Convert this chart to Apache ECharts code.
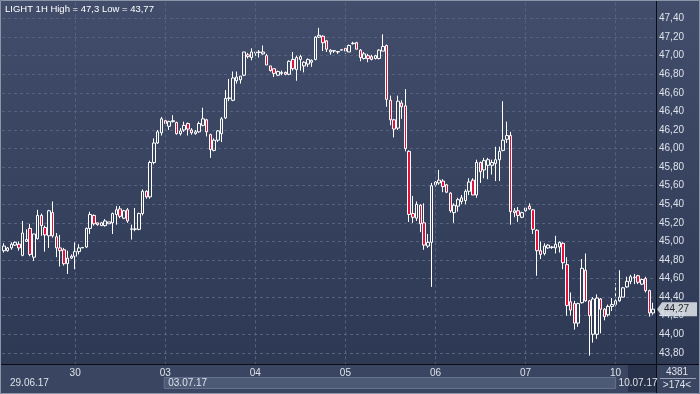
<!DOCTYPE html>
<html lang="en">
<head>
    <meta charset="UTF-8">
    <title>LIGHT 1H</title>
    <style>
        html, body { margin: 0; padding: 0; background: #2c3752; }
        #main { width: 700px; height: 394px; }
    </style>
</head>
<body>
<div id="main"></div>
<script src="https://cdn.jsdelivr.net/npm/echarts@6/dist/echarts.min.js"></script>
<script>
    // days on screen and how many hourly bars each one has
    var days = ['29.06.17', '30.06.17', '03.07.17', '04.07.17', '05.07.17', '06.07.17', '07.07.17', '10.07.17'];
    var barsPerDay = [19, 24, 24, 24, 24, 24, 24, 11];
    var firstHour = [5, 0, 0, 0, 0, 0, 0, 0];
    var weekLabels = ['29.06.17', '03.07.17', '10.07.17'];

    // OHLC
    var opens = [
        44.90, 44.90, 44.93, 44.96, 44.97, 44.85, 45.00, 45.14, 44.83, 45.03, 45.28, 45.15, 45.06, 45.31, 45.05, 44.93, 44.91, 44.76, 44.82,
        44.84, 44.89, 44.93, 44.94, 45.14, 45.28, 45.20, 45.17, 45.17, 45.19, 45.20, 45.29, 45.35, 45.25, 45.34, 45.13, 45.13, 45.13, 45.30, 45.54, 45.48, 45.85, 46.06, 46.17,
        46.30, 46.24, 46.29, 46.28, 46.16, 46.20, 46.27, 46.20, 46.16, 46.18, 46.25, 46.31, 46.15, 45.98, 46.09, 46.16, 46.33, 46.54, 46.52, 46.73, 46.74, 46.79, 47.01, 46.98,
        47.03, 47.04, 47.02, 47.00, 46.89, 46.86, 46.79, 46.81, 46.82, 46.80, 46.96, 46.85, 46.96, 46.89, 46.91, 46.93, 46.96, 47.20, 47.21, 47.16, 47.04, 47.05, 47.04, 47.06,
        47.08, 47.04, 47.13, 47.14, 47.06, 46.97, 47.00, 46.99, 46.97, 46.97, 47.05, 47.11, 46.52, 46.31, 46.22, 46.49, 46.46, 45.97, 45.30, 45.25, 45.39, 45.20, 44.95, 44.99,
        45.61, 45.63, 45.65, 45.61, 45.52, 45.31, 45.38, 45.43, 45.44, 45.54, 45.66, 45.50, 45.85, 45.77, 45.82, 45.82, 45.84, 45.88, 45.98, 46.10, 46.14, 45.31, 45.33, 45.26,
        45.33, 45.38, 45.34, 45.12, 44.90, 44.87, 44.93, 44.94, 44.93, 44.94, 44.98, 44.75, 44.35, 44.33, 44.12, 44.34, 44.69, 44.36, 44.00, 44.00, 44.38, 44.27, 44.21, 44.30,
        44.32, 44.36, 44.40, 44.51, 44.57, 44.61, 44.63, 44.54, 44.60, 44.47, 44.23
    ];
    var highs = [
        44.98, 44.94, 44.99, 45.00, 45.00, 45.22, 45.13, 45.19, 45.08, 45.34, 45.30, 45.17, 45.34, 45.43, 45.09, 45.07, 44.93, 44.90, 44.86,
        44.99, 44.97, 44.94, 45.15, 45.32, 45.29, 45.20, 45.21, 45.24, 45.21, 45.31, 45.38, 45.38, 45.34, 45.36, 45.18, 45.36, 45.31, 45.56, 45.55, 45.87, 46.11, 46.20, 46.34,
        46.31, 46.30, 46.36, 46.29, 46.22, 46.29, 46.28, 46.22, 46.20, 46.29, 46.44, 46.32, 46.16, 46.11, 46.20, 46.34, 46.63, 46.75, 46.83, 46.83, 46.78, 47.04, 47.03, 47.08,
        47.05, 47.06, 47.11, 47.02, 46.89, 46.86, 46.84, 46.84, 46.83, 46.95, 47.04, 47.00, 47.01, 46.94, 46.97, 46.96, 47.21, 47.30, 47.22, 47.17, 47.07, 47.06, 47.05, 47.07,
        47.08, 47.12, 47.15, 47.15, 47.07, 47.04, 47.02, 47.01, 47.01, 47.07, 47.23, 47.12, 46.57, 46.32, 46.57, 46.52, 46.64, 45.98, 45.49, 45.43, 45.40, 45.41, 45.08, 45.63,
        45.65, 45.77, 45.67, 45.62, 45.53, 45.41, 45.47, 45.50, 45.56, 45.68, 45.68, 45.88, 45.86, 45.90, 45.90, 45.88, 46.02, 46.02, 46.51, 46.29, 46.18, 45.36, 45.37, 45.32,
        45.37, 45.41, 45.35, 45.13, 45.00, 44.98, 44.97, 44.95, 45.06, 45.00, 44.99, 44.83, 44.45, 44.36, 44.34, 44.81, 44.87, 44.37, 44.40, 44.43, 44.39, 44.28, 44.32, 44.39,
        44.55, 44.69, 44.51, 44.62, 44.64, 44.65, 44.64, 44.60, 44.62, 44.48, 44.34
    ];
    var lows = [
        44.88, 44.89, 44.91, 44.95, 44.90, 44.84, 45.00, 44.84, 44.79, 45.02, 45.06, 44.89, 44.93, 45.04, 44.83, 44.73, 44.74, 44.65, 44.81,
        44.70, 44.86, 44.93, 44.93, 45.08, 45.17, 45.17, 45.17, 45.16, 45.19, 45.08, 45.18, 45.25, 45.24, 45.20, 45.02, 45.11, 45.12, 45.28, 45.46, 45.46, 45.83, 46.05, 46.14,
        46.25, 46.20, 46.28, 46.15, 46.14, 46.18, 46.14, 46.15, 46.15, 46.17, 46.24, 46.13, 45.90, 45.97, 46.07, 46.07, 46.32, 46.51, 46.51, 46.70, 46.70, 46.78, 46.97, 46.95,
        47.00, 46.98, 47.01, 46.90, 46.83, 46.77, 46.78, 46.79, 46.79, 46.79, 46.84, 46.73, 46.84, 46.82, 46.88, 46.88, 46.95, 47.19, 47.05, 47.04, 47.01, 47.03, 47.02, 47.06,
        47.02, 47.04, 47.12, 47.07, 46.94, 46.96, 46.93, 46.95, 46.96, 46.96, 47.05, 46.45, 46.25, 46.12, 46.20, 46.32, 45.97, 45.21, 45.20, 45.22, 45.10, 44.91, 44.93, 44.51,
        45.59, 45.61, 45.53, 45.52, 45.31, 45.20, 45.32, 45.40, 45.40, 45.50, 45.50, 45.47, 45.63, 45.68, 45.67, 45.72, 45.65, 45.65, 45.97, 46.06, 45.18, 45.26, 45.21, 45.25,
        45.32, 45.34, 45.08, 44.63, 44.81, 44.85, 44.92, 44.92, 44.87, 44.88, 44.70, 44.20, 44.20, 44.05, 44.08, 44.33, 44.35, 43.77, 43.91, 43.95, 44.01, 44.15, 44.19, 44.25,
        44.30, 44.35, 44.40, 44.50, 44.54, 44.54, 44.54, 44.53, 44.45, 44.19, 44.21
    ];
    var closes = [
        44.95, 44.93, 44.97, 44.99, 44.93, 45.09, 45.02, 44.86, 45.08, 45.28, 45.17, 45.07, 45.33, 45.06, 44.93, 44.90, 44.76, 44.82, 44.84,
        44.89, 44.93, 44.935, 45.14, 45.29, 45.19, 45.18, 45.20, 45.22, 45.21, 45.30, 45.34, 45.27, 45.33, 45.22, 45.135, 45.135, 45.30, 45.54, 45.48, 45.85, 46.06, 46.18, 46.32,
        46.27, 46.29, 46.30, 46.16, 46.19, 46.25, 46.21, 46.17, 46.18, 46.27, 46.32, 46.18, 45.99, 46.09, 46.19, 46.32, 46.54, 46.545, 46.76, 46.77, 46.78, 47.04, 46.99, 47.04,
        47.04, 47.035, 47.04, 46.90, 46.84, 46.81, 46.83, 46.82, 46.80, 46.94, 46.86, 46.98, 46.99, 46.93, 46.96, 46.95, 47.20, 47.22, 47.14, 47.07, 47.06, 47.055, 47.045, 47.065,
        47.05, 47.11, 47.135, 47.07, 46.98, 47.02, 46.97, 46.96, 47.00, 47.06, 47.10, 46.53, 46.31, 46.21, 46.51, 46.45, 46.00, 45.29, 45.26, 45.40, 45.19, 44.96, 44.99, 45.60,
        45.64, 45.66, 45.59, 45.53, 45.33, 45.39, 45.45, 45.47, 45.54, 45.64, 45.50, 45.85, 45.75, 45.87, 45.88, 45.85, 45.88, 45.97, 46.09, 46.14, 45.32, 45.33, 45.28, 45.31,
        45.36, 45.35, 45.13, 44.90, 44.86, 44.95, 44.96, 44.935, 44.97, 44.99, 44.77, 44.31, 44.26, 44.12, 44.33, 44.71, 44.36, 44.20, 44.38, 44.39, 44.27, 44.19, 44.30, 44.32,
        44.36, 44.40, 44.50, 44.57, 44.62, 44.615, 44.56, 44.59, 44.47, 44.23, 44.27
    ];

    var yTicks = { min: 43.6, max: 47.6, step: 0.2 };

    var categories = [];
    var dayStarts = [];
    for (var d = 0; d < days.length; d++) {
        for (var k = 0; k < barsPerDay[d]; k++) {
            var h = firstHour[d] + k;
            var name = days[d] + ' ' + (h < 10 ? '0' + h : h) + ':00';
            categories.push(name);
            if (h === 0) dayStarts.push(name);
        }
    }
    var candles = opens.map(function (o, i) {
        return [o, closes[i], lows[i], highs[i]];
    });
    var lastClose = closes[closes.length - 1];

    var fmt = function (v) { return v.toFixed(2).replace('.', ','); };
    var gridColor = '#56627e';
    var textColor = '#dde2ea';
    var font = 'Liberation Sans, Arial, sans-serif';

    var myChart = echarts.init(document.getElementById('main'));
    var option = {
        animation: false,
        backgroundColor: {
            type: 'linear', x: 0, y: 0, x2: 0, y2: 1,
            colorStops: [{ offset: 0, color: '#414d6a' }, { offset: 1, color: '#2c3752' }]
        },
        textStyle: { fontFamily: font },
        grid: { left: 2, width: 653, top: -2.7, bottom: 22.6 },
        xAxis: {
            type: 'category',
            data: categories,
            boundaryGap: true,
            z: 10,
            axisLine: { show: false },
            axisTick: { show: false },
            splitLine: { show: false },
            axisLabel: {
                color: textColor,
                fontSize: 10,
                margin: 2,
                verticalAlign: 'middle',
                interval: function (idx, val) { return /00:00$/.test(val); },
                formatter: function (val) { return val.slice(0, 2); }
            }
        },
        yAxis: [{
            type: 'value',
            min: yTicks.min, max: yTicks.max, interval: yTicks.step,
            position: 'right',
            axisLine: { show: false },
            axisTick: { show: false },
            axisLabel: { show: false },
            splitLine: {
                show: true, showMinLine: false, showMaxLine: false,
                lineStyle: { color: gridColor, type: [3, 3], width: 1 }
            }
        }, {
            type: 'value',
            min: yTicks.min, max: yTicks.max, interval: yTicks.step,
            position: 'right',
            z: 10,
            axisLine: { show: false },
            axisTick: { show: false },
            splitLine: { show: false },
            axisLabel: {
                color: textColor, fontSize: 10, margin: 4,
                showMinLabel: false, showMaxLabel: false,
                formatter: fmt
            }
        }],
        series: [{
            type: 'candlestick',
            data: candles,
            barWidth: 3,
            itemStyle: {
                color: 'rgba(0,0,0,0)',
                color0: '#e3103c',
                borderColor: '#ffffff',
                borderColor0: '#ffffff',
                borderWidth: 1
            },
            markLine: {
                silent: true,
                symbol: ['none', 'none'],
                label: { show: false },
                lineStyle: { color: gridColor, type: [3, 3], width: 1 },
                data: dayStarts.map(function (c) { return { xAxis: c }; })
            }
        }]
    };
    myChart.setOption(option);

    // bottom strip, right panel and the labels that sit on them
    var py = myChart.convertToPixel({ yAxisIndex: 0 }, lastClose);
    var weekX = weekLabels.map(function (w) {
        return myChart.convertToPixel({ xAxisIndex: 0 }, w + ' ' + (w === days[0] ? '05' : '00') + ':00');
    });
    var g = [
        { type: 'rect', z: 5, shape: { x: 0, y: 364, width: 700, height: 30 }, style: { fill: '#3a4661' } },
        { type: 'rect', z: 5, shape: { x: weekX[1] - 1, y: 377.5, width: weekX[2] - weekX[1] + 1, height: 11 },
            style: { fill: '#4d5a76', stroke: '#66728d', lineWidth: 1 } },
        { type: 'rect', z: 5, shape: { x: 628, y: 365, width: 28, height: 27 }, style: { fill: '#28324b' } },
        { type: 'line', z: 6, shape: { x1: 656.5, y1: 0, x2: 656.5, y2: 394 }, style: { stroke: '#0a0d13', lineWidth: 1 } },
        { type: 'line', z: 6, shape: { x1: 0, y1: 364.5, x2: 700, y2: 364.5 }, style: { stroke: '#0a0d13', lineWidth: 1 } },
        { type: 'line', z: 6, shape: { x1: 660, y1: 378.5, x2: 696, y2: 378.5 }, style: { stroke: '#9aa3b3', lineWidth: 1 } },
        { type: 'text', z: 7, x: 677, y: 372, style: { text: '4381', fill: textColor, font: '10px ' + font, align: 'center', verticalAlign: 'middle' } },
        { type: 'text', z: 7, x: 677, y: 385, style: { text: '>174<', fill: textColor, font: '10px ' + font, align: 'center', verticalAlign: 'middle' } },
        { type: 'polygon', z: 7, shape: { points: [[657, py], [662, py - 7], [697, py - 7], [697, py + 7], [662, py + 7]] },
            style: { fill: '#c8cdd6' } },
        { type: 'text', z: 8, x: 664, y: py, style: { text: fmt(lastClose), fill: '#23262c', font: '10px ' + font, verticalAlign: 'middle' } },
        { type: 'text', z: 7, x: 5, y: 9, style: { text: 'LIGHT 1H High = 47,3 Low = 43,77', fill: '#ffffff', font: '9.5px ' + font, verticalAlign: 'middle' } },
        { type: 'rect', z: 9, shape: { x: 0.5, y: 0.5, width: 699, height: 393 }, style: { fill: 'none', stroke: '#8b95a8', lineWidth: 1 } }
    ];
    weekLabels.forEach(function (w, i) {
        g.push({ type: 'text', z: 7, x: Math.max(weekX[i] + 3, 10), y: 383.5,
            style: { text: w, fill: textColor, font: '10px ' + font, verticalAlign: 'middle' } });
    });
    myChart.setOption({ graphic: g });
</script>
</body>
</html>
